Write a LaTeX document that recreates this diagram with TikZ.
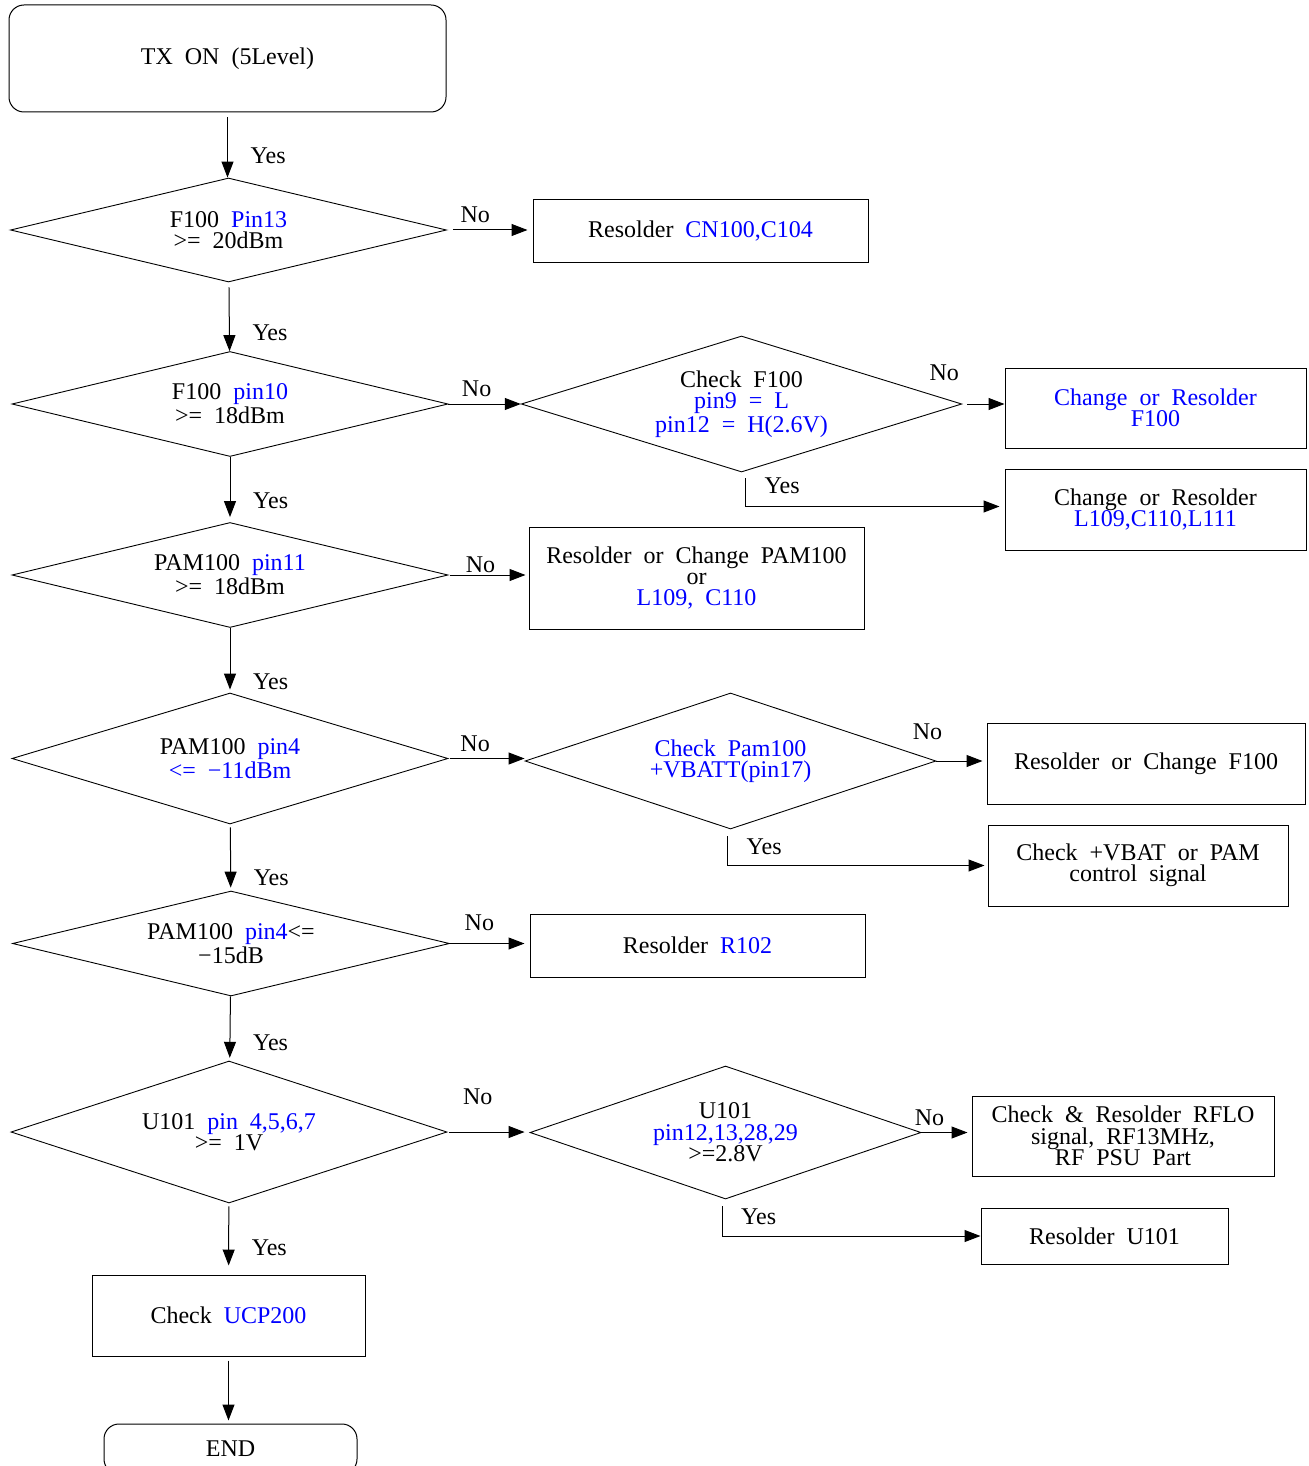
\documentclass[tikz,border=0pt]{standalone}
\usepackage{fontspec}
\setmainfont{Liberation Serif}[WordSpace=2]
\usetikzlibrary{shapes.geometric, arrows.meta, positioning, calc}
\definecolor{pinBlue}{HTML}{0000FF}
\newcommand{\pintext}[1]{\textcolor{pinBlue}{#1}}

\begin{document}
\begin{tikzpicture}[
    x=0.5pt, y=-0.5pt,
    font={\fontsize{12}{10.7}\selectfont},
    % Node Styles
    terminal/.style={
        rectangle,
        rounded corners=7.5pt,
        draw=black,
        line width=0.5pt,
        align=center
    },
    decision/.style={
        diamond,
        aspect=4,
        draw=black,
        line width=0.45pt,
        align=center,
        inner sep=0pt
    },
    action/.style={
        rectangle,
        draw=black,
        line width=0.5pt,
        align=center,
        inner sep=2pt
    },
    % Arrow Style
    arrow/.style={
        -{Triangle[length=8pt, width=6pt]},
        draw=black,
        line width=0.5pt
    },
    yes/.style={anchor=west, xshift=8pt},
    no/.style={above}
]
    \clip (0,0) rectangle (1309,1466);

    % --- Nodes ---

    % Start
    \node[terminal, minimum width=218.5pt, minimum height=53.5pt] (start) at (227.5,58.5) {TX ON (5Level)};

    % Main column of checks
    \node[decision, minimum width=218pt, minimum height=52pt] (pin13) at (228.5,230) {F100 \pintext{Pin13}\\>= 20dBm};
    \node[decision, minimum width=218pt, minimum height=52.5pt] (pin10) at (230,404) {F100 \pintext{pin10}\\>= 18dBm};
    \node[decision, minimum width=218pt, minimum height=52.5pt] (pin11) at (230,575) {PAM100 \pintext{pin11}\\>= 18dBm};
    \node[decision, minimum width=218pt, minimum height=65.5pt] (pamfour) at (230,758.5) {PAM100 \pintext{pin4}\\\pintext{<= −11dBm}};
    \node[decision, minimum width=218.5pt, minimum height=52.5pt] (pamlow) at (231,943.5) {PAM100 \pintext{pin4}<=\\−15dB};
    \node[decision, minimum width=218pt, minimum height=71pt] (uvolt) at (229,1132) {U101 \pintext{pin 4,5,6,7}\\>= 1V};
    \node[action, minimum width=136.5pt, minimum height=40.5pt] (ucp) at (228.5,1315.5) {Check \pintext{UCP200}};
    \node[terminal, minimum width=126.5pt, minimum height=25pt] (finish) at (230.5,1449) {END};

    % Second column
    \node[action, minimum width=167.5pt, minimum height=31.5pt] (fixcn) at (700.5,231.5) {Resolder \pintext{CN100,C104}};
    \node[decision, minimum width=216.5pt, minimum height=68pt] (ctrl) at (741.5,404) {Check F100\\\pintext{pin9 = L}\\\pintext{pin12 = H(2.6V)}};
    \node[action, minimum width=167.5pt, minimum height=51pt] (fixpam) at (696.5,578) {Resolder or Change PAM100\\or\\\pintext{L109, C110}};
    \node[decision, minimum width=205.5pt, minimum height=68pt] (vbatt) at (730.5,761) {\pintext{Check Pam100}\\\pintext{+VBATT(pin17)}};
    \node[action, minimum width=167.5pt, minimum height=31.5pt] (fixr) at (697.5,945.5) {Resolder \pintext{R102}};
    \node[decision, minimum width=195.5pt, minimum height=66.5pt] (uctrl) at (725.5,1132.5) {U101\\\pintext{pin12,13,28,29}\\>=2.8V};

    % Third column
    \node[action, minimum width=150.5pt, minimum height=40pt] (fixf) at (1155.5,408) {\pintext{Change or Resolder}\\\pintext{F100}};
    \node[action, minimum width=150.5pt, minimum height=40.5pt] (fixl) at (1155.5,509.5) {Change or Resolder\\\pintext{L109,C110,L111}};
    \node[action, minimum width=159pt, minimum height=40.5pt] (fixff) at (1146,763.5) {Resolder or Change F100};
    \node[action, minimum width=150pt, minimum height=40.5pt] (chkvbat) at (1138,865.5) {Check +VBAT or PAM\\control signal};
    \node[action, minimum width=151pt, minimum height=40pt] (chkrflo) at (1123,1136) {Check \& Resolder RFLO\\signal, RF13MHz,\\RF PSU Part};
    \node[action, minimum width=123.5pt, minimum height=28pt] (fixu) at (1104.5,1236) {Resolder U101};

    % --- Edges ---

    % Main column (Yes)
    \draw[arrow, shorten <=2.5pt] (start.south) -- node[yes, pos=.67] {Yes} (start.south |- pin13.north);
    \draw[arrow, shorten <=2.5pt] (pin13) -- node[yes, pos=.73] {Yes} (pin10);
    \draw[arrow, shorten >=2.5pt] (pin10) -- node[yes, pos=.67] {Yes} (pin11);
    \draw[arrow, shorten >=1.5pt] (pin11) -- node[yes, pos=.84] {Yes} (pamfour);
    \draw[arrow, shorten <=1.5pt, shorten >=1.5pt] (pamfour) -- node[yes, pos=.8] {Yes} (pamlow);
    \draw[arrow, shorten >=1.5pt] (pamlow) -- node[yes, pos=.72] {Yes} (uvolt);
    \draw[arrow, shorten <=1.5pt, shorten >=4.5pt] (uvolt) -- node[yes, pos=.62] {Yes} (ucp);
    \draw[arrow, shorten <=2pt, shorten >=1.5pt] (ucp.south) -- (ucp.south |- finish.north);

    % Branches (No)
    \draw[arrow, shorten <=3pt, shorten >=2.5pt] (pin13.east) -- node[no, pos=.33] {No} (pin13.east -| fixcn.west);
    \draw[arrow] (pin10.east) -- node[no, pos=.39] {No} (ctrl.west);
    \draw[arrow, shorten <=1pt, shorten >=1.5pt] (pin11.east) -- node[no, pos=.4, inner sep=1pt] {No} (pin11.east -| fixpam.west);
    \draw[arrow, shorten <=1pt] (pamfour.east) -- node[no, pos=.35] {No} (pamfour.east -| vbatt.west);
    \draw[arrow, shorten >=2.5pt] (pamlow.east) -- node[no, pos=.37, yshift=3pt] {No} (pamlow.east -| fixr.west);
    \draw[arrow, shorten <=1pt, shorten >=2.5pt] (uvolt.east) -- node[no, pos=.37, yshift=10pt] {No} (uvolt.east -| uctrl.west);

    \draw[arrow, shorten <=2.5pt] (ctrl.east) -- node[no, pos=0, xshift=-9pt, yshift=8pt] {No} (ctrl.east -| fixf.west);
    \draw[arrow, shorten >=2pt] (vbatt.east) -- node[no, pos=0, xshift=-4.5pt, yshift=7pt] {No} (vbatt.east -| fixff.west);
    \draw[arrow, shorten >=2pt] (uctrl.east) -- node[no, pos=0, xshift=4pt] {No} (uctrl.east -| chkrflo.west);

    % Branches (Yes) of the second column
    \draw[arrow, shorten >=2.5pt] ([xshift=2pt, yshift=-3pt]ctrl.south) |- node[pos=.5, anchor=south west, xshift=6pt, yshift=3pt] {Yes} ([yshift=1.5pt]fixl.west);
    \draw[arrow, shorten >=1.5pt] ([xshift=-1.5pt, yshift=-3.5pt]vbatt.south) |- node[pos=.5, anchor=south west, xshift=6pt, yshift=2pt] {Yes} (chkvbat.west);
    \draw[arrow] ([xshift=-1.75pt, yshift=-3.5pt]uctrl.south) |- node[pos=.5, anchor=south west, xshift=6pt, yshift=2pt] {Yes} (fixu.west);

\end{tikzpicture}
\end{document}
